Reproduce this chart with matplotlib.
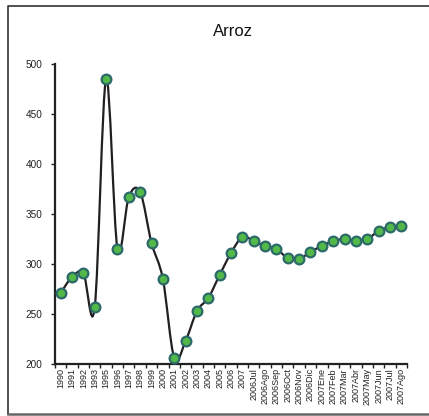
#!/usr/bin/env python3

import numpy as np
import matplotlib
matplotlib.use("Agg")
import matplotlib.pyplot as plt
from matplotlib.path import Path
from matplotlib.patches import PathPatch

plt.rcParams["font.family"] = ["Liberation Sans", "DejaVu Sans"]

TITLE = "Arroz"

periods = [
    "1990", "1991", "1992", "1993", "1995", "1996", "1997", "1998", "1999",
    "2000", "2001", "2002", "2003", "2004", "2005", "2006", "2007",
    "2006Jul", "2006Ago", "2006Sep", "2006Oct", "2006Nov", "2006Dic",
    "2007Ene", "2007Feb", "2007Mar", "2007Abr", "2007May", "2007Jun",
    "2007Jul", "2007Ago",
]

prices = [
    271, 287, 291, 257, 485, 315, 367, 372, 321,
    285, 206, 223, 253, 266, 289, 311, 327,
    323, 318, 315, 306, 305, 312,
    318, 323, 325, 323, 325, 333,
    337, 338,
]

y_ticks = [200, 250, 300, 350, 400, 450, 500]


def smooth_path(x, y):
    # Bezier segments through every point, like a spreadsheet "smoothed line".
    pts = np.column_stack([x, y]).astype(float)
    n = len(pts)
    verts = [pts[0]]
    codes = [Path.MOVETO]
    for i in range(n - 1):
        p0 = pts[i - 1] if i > 0 else pts[i]
        p1 = pts[i]
        p2 = pts[i + 1]
        p3 = pts[i + 2] if i + 2 < n else pts[i + 1]
        c1 = p1 + (p2 - p0) / 6.0
        c2 = p2 - (p3 - p1) / 6.0
        verts += [c1, c2, p2]
        codes += [Path.CURVE4] * 3
    return Path(verts, codes)


def main():
    fig = plt.figure(figsize=(4.29, 4.16), dpi=100, facecolor="white")

    # Chart frame: left and top edges, darker bottom edge, open to the right.
    left, top, bottom = 7.5 / 429, 1 - 5.5 / 416, 1 - 414 / 416
    fig.lines.append(plt.Line2D([1.0, left, left], [top, top, bottom],
                                transform=fig.transFigure,
                                color="#333333", linewidth=1.2))
    fig.lines.append(plt.Line2D([left, 1.0], [bottom, bottom],
                                transform=fig.transFigure,
                                color="#666666", linewidth=1.8))

    ax = fig.add_axes([55 / 429, 1 - 364 / 416, 352 / 429, 300 / 416])

    x = np.arange(len(periods))
    ax.add_patch(PathPatch(smooth_path(x, prices), facecolor="none",
                           edgecolor="#231f20", linewidth=1.6, zorder=2))
    ax.plot(x, prices, linestyle="none", marker="o", markersize=7,
            markerfacecolor="#52b848", markeredgecolor="#2c6a6a",
            markeredgewidth=1.6, zorder=3)

    ax.set_xlim(-0.5, len(periods) - 0.5)
    ax.set_ylim(200, 500)

    ax.set_yticks(y_ticks)
    ax.set_yticklabels([str(v) for v in y_ticks], fontsize=7.2,
                       color="#222222")
    ax.tick_params(axis="y", length=3, width=1, pad=6, color="#222222")

    ax.set_xticks(x)
    ax.set_xticklabels(periods, rotation=90, fontsize=6.5, color="#222222",
                       va="top", ha="center")
    ax.set_xticks(np.arange(len(periods) + 1) - 0.5, minor=True)
    ax.tick_params(axis="x", which="major", length=0, pad=3)
    ax.tick_params(axis="x", which="minor", length=3, width=1,
                   color="#222222")

    for side in ["top", "right"]:
        ax.spines[side].set_visible(False)
    for side in ["left", "bottom"]:
        ax.spines[side].set_color("#222222")
        ax.spines[side].set_linewidth(1.6)

    fig.text(233 / 429, 1 - 32 / 416, TITLE, fontsize=12, ha="center",
             va="center", color="#111111")

    fig.savefig("out.png", dpi=100)


if __name__ == "__main__":
    main()
